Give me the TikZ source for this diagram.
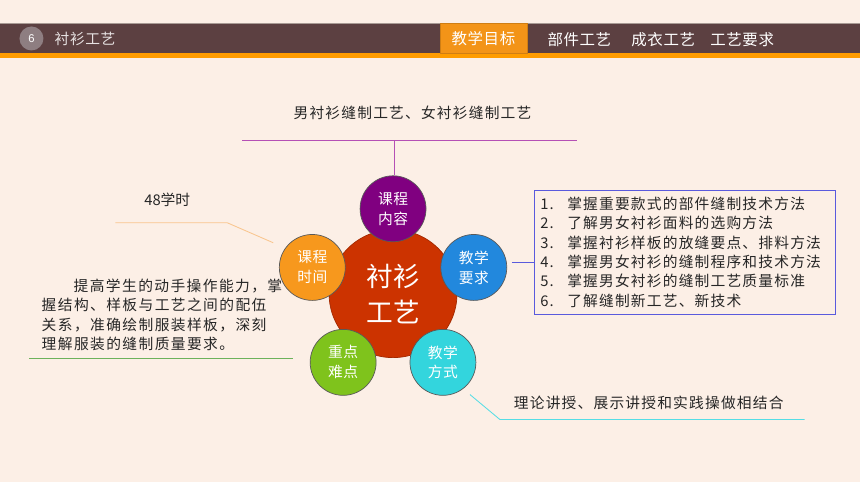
\documentclass[tikz,border=0pt]{standalone}
\usepackage{fontspec}
\setmainfont{Liberation Sans}
\newfontfamily\cjk{Noto Sans CJK SC}
\usetikzlibrary{calc}

\definecolor{bgpeach}{HTML}{FCEFE6}
\definecolor{barbrown}{HTML}{5C4041}
\definecolor{barline}{HTML}{A89A94}
\definecolor{barorange}{HTML}{FF9C00}
\definecolor{taborange}{HTML}{F39418}
\definecolor{numgrey}{HTML}{8E7E81}
\definecolor{hubred}{HTML}{CC3300}
\definecolor{cpurple}{HTML}{800080}
\definecolor{cblue}{HTML}{2288DD}
\definecolor{corange}{HTML}{F7981D}
\definecolor{cgreen}{HTML}{7FC31C}
\definecolor{ccyan}{HTML}{33D5DD}
\definecolor{lnpurple}{HTML}{B550B5}
\definecolor{lnblue}{HTML}{5A5ADD}
\definecolor{lnorange}{HTML}{F9C58E}
\definecolor{lngreen}{HTML}{6DB25B}
\definecolor{lncyan}{HTML}{55DDE5}

\newcommand{\goalitem}[2]{\makebox[0.675cm][l]{#1.}#2}

\begin{document}
\begin{tikzpicture}[x=0.025cm, y=-0.025cm,
    lbl/.style={inner sep=0pt, text=black!85, font=\cjk\addfontfeature{LetterSpace=8}\fontsize{10.5}{13.8}\selectfont},
    petal/.style={circle, draw=black!65, line width=0.5pt, minimum size=1.65cm, inner sep=0pt, align=center, text=white, font=\cjk\addfontfeature{LetterSpace=3}\fontsize{10.5}{14.2}\selectfont},
    hubnode/.style={circle, draw=hubred!80!black, line width=0.5pt, fill=hubred, minimum size=3.2cm, inner sep=0pt, align=center, text=white, font=\cjk\fontsize{19}{25.6}\selectfont},
    menu/.style={inner sep=0pt, text=white, font=\cjk\addfontfeature{LetterSpace=4}\fontsize{11}{13}\selectfont},
    leader/.style={line width=0.6pt}]

    % page and header bar
    \fill[bgpeach] (0,0) rectangle (860,483);
    \fill[barbrown] (0,23) rectangle (860,53);
    \draw[barline, line width=0.7pt] (0,23.5) -- (860,23.5);
    \fill[barorange] (0,53) rectangle (860,58);
    \node[circle, fill=numgrey, minimum size=0.6cm, inner sep=0pt, text=white, font=\fontsize{8}{9}\selectfont] (pagenum) at (31,38.5) {6};
    \node[anchor=west, inner sep=0pt, text=white!85!barbrown, font=\cjk\addfontfeature{LetterSpace=4}\fontsize{10.5}{12}\selectfont] (course) at (54,39) {衬衫工艺};
    \node[menu, fill=taborange, draw=taborange!85!black, minimum width=2.175cm, minimum height=0.75cm] (tabgoal) at (483.5,38.5) {教学目标};
    \foreach \nm/\x/\txt in {tabparts/579.5/部件工艺, tabgarment/663.5/成衣工艺, tabreq/742.5/工艺要求}
        \node[menu] (\nm) at (\x,40) {\txt};

    % hub and petals
    \node[hubnode] (hub) at (393,294) {衬衫\\工艺};
    \foreach \nm/\ang/\col/\txt in {pcontent/270/cpurple/{课程\\内容}, preq/342/cblue/{教学\\要求},
            pmethod/54/ccyan/{教学\\方式}, pkey/126/cgreen/{重点\\难点}, phours/198/corange/{课程\\时间}}
        \node[petal, fill=\col] (\nm) at ($(hub)+(\ang:85)$) {\txt};

    % course content
    \node[lbl] (contentlbl) at (412.5,113) {男衬衫缝制工艺、女衬衫缝制工艺};
    \coordinate (ct-a) at (242,141);
    \coordinate (ct-b) at (577,141);
    \coordinate (ct-j) at (394,141);
    \draw[leader, lnpurple] (ct-a) -- (ct-b);
    \draw[leader, lnpurple] (ct-j) -- (ct-j |- pcontent.north);

    % teaching requirements
    \node[draw=lnblue, line width=0.6pt, anchor=north west, minimum width=7.525cm, minimum height=3.1cm,
          inner xsep=0.15cm, inner ysep=0pt, text width=7.225cm, align=left, text=black!85,
          font=\cjk\addfontfeature{LetterSpace=8}\fontsize{10.5}{13.8}\selectfont] (goals) at (534,190)
        {\goalitem{1}{掌握重要款式的部件缝制技术方法}\\
         \goalitem{2}{了解男女衬衫面料的选购方法}\\
         \goalitem{3}{掌握衬衫样板的放缝要点、排料方法}\\
         \goalitem{4}{掌握男女衬衫的缝制程序和技术方法}\\
         \goalitem{5}{掌握男女衬衫的缝制工艺质量标准}\\
         \goalitem{6}{了解缝制新工艺、新技术}};
    \coordinate (rq-a) at (512,263);
    \draw[leader, lnblue] (rq-a) -- (goals.west |- rq-a);

    % course hours
    \node[inner sep=0pt, text=black!85, font=\cjk\fontsize{10.5}{12}\selectfont] (hours) at (167,200) {48学时};
    \coordinate (hr-a) at (115,223);
    \coordinate (hr-b) at (227,223);
    \coordinate (hr-c) at (273,243);
    \draw[leader, lnorange] (hr-a) -- (hr-b) -- (hr-c);

    % key points
    \node[lbl, anchor=north west, align=left, font=\cjk\addfontfeature{LetterSpace=9.5}\fontsize{10.5}{13.8}\selectfont] (aims) at (41,279)
        {\hspace*{0.8cm}提高学生的动手操作能力，掌\\
         握结构、样板与工艺之间的配伍\\
         关系，准确绘制服装样板，深刻\\
         理解服装的缝制质量要求。};
    \coordinate (ky-a) at (29,359);
    \coordinate (ky-b) at (293,359);
    \draw[leader, lngreen] (ky-a) -- (ky-b);

    % teaching method
    \node[lbl] (methodlbl) at (649,403) {理论讲授、展示讲授和实践操做相结合};
    \coordinate (md-a) at (470,395);
    \coordinate (md-b) at (500,420);
    \coordinate (md-c) at (805,420);
    \draw[leader, lncyan] (md-a) -- (md-b) -- (md-c);
\end{tikzpicture}
\end{document}
